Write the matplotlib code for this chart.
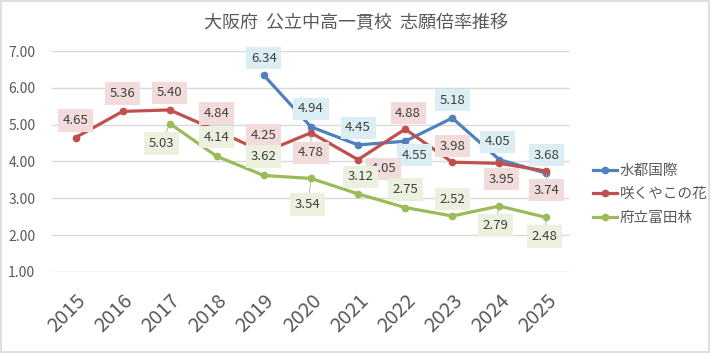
import matplotlib.pyplot as plt
from matplotlib.patches import Rectangle

plt.rcParams['font.family'] = ['Noto Sans CJK JP', 'DejaVu Sans']

years = ['2015', '2016', '2017', '2018', '2019', '2020', '2021', '2022', '2023', '2024', '2025']

suito_x = [4, 5, 6, 7, 8, 9, 10]
suito = [6.34, 4.94, 4.45, 4.55, 5.18, 4.05, 3.68]

sakuya_x = [0, 1, 2, 3, 4, 5, 6, 7, 8, 9, 10]
sakuya = [4.65, 5.36, 5.40, 4.84, 4.25, 4.78, 4.05, 4.88, 3.98, 3.95, 3.74]

tonda_x = [2, 3, 4, 5, 6, 7, 8, 9, 10]
tonda = [5.03, 4.14, 3.62, 3.54, 3.12, 2.75, 2.52, 2.79, 2.48]

names = ['水都国際', '咲くやこの花', '府立富田林']

# label offsets in pixels (dx, dy up)
suito_off = [(0, 17), (0, 18), (0, 17), (9, -14), (0, 18), (-2, 18), (0, 18)]
sakuya_off = [(0, 17), (0, 18), (0, 17), (0, 17), (0, 17), (0, -20), (25, -9),
              (3, 16), (0, 16), (2, -16), (0, -19)]
tonda_off = [(-8, -20), (0, 19), (0, 19), (-3, -26), (2, 17), (0, 18), (0, 17),
             (-4, -19), (-2, -19)]

colors = ['#4F81BD', '#C0504D', '#9BBB59']
box_colors = ['#DBEEF4', '#F2DCDB', '#EBF1DE']

fig = plt.figure(figsize=(7.11, 3.53), dpi=100)
ax = fig.add_axes([0.0731, 0.2295, 0.7286, 0.626])

series = [(suito_x, suito, suito_off), (sakuya_x, sakuya, sakuya_off), (tonda_x, tonda, tonda_off)]
for (xs, ys, offs), name, c, bc in zip(series, names, colors, box_colors):
    ax.plot(xs, ys, color=c, lw=2.3, marker='o', markersize=4.5, label=name, zorder=3)
    for x, y, (dx, dy) in zip(xs, ys, offs):
        leader = None
        if dy <= -19:
            leader = dict(arrowstyle='-', color='#A6A6A6', lw=0.6, shrinkA=0, shrinkB=2)
        ax.annotate(f'{y:.2f}', (x, y), xytext=(dx, dy), textcoords='offset pixels',
                    ha='center', va='center', fontsize=9.5, color='#404040', zorder=4,
                    bbox=dict(boxstyle='square,pad=0.35', fc=bc, ec='none'),
                    arrowprops=leader)

ax.set_xlim(-0.5, 10.5)
ax.set_ylim(1, 7)
ax.set_yticks([1, 2, 3, 4, 5, 6, 7])
ax.set_yticklabels([f'{v:.2f}' for v in [1, 2, 3, 4, 5, 6, 7]])
ax.set_xticks(range(len(years)))
ax.set_xticklabels(years, rotation=45, ha='right', rotation_mode='anchor', fontsize=14.5)
ax.tick_params(axis='x', length=0, pad=13, colors='#595959')
ax.tick_params(axis='y', length=0, pad=12, labelsize=10, colors='#595959')
ax.grid(axis='y', color='#D9D9D9', lw=1)
ax.set_axisbelow(True)
for s in ax.spines.values():
    s.set_visible(False)

fig.text(0.5, 0.935, '大阪府  公立中高一貫校  志願倍率推移', ha='center', va='center',
         fontsize=13, color='#595959')

ax.legend(loc='upper left', bbox_to_anchor=(1.045, 0.49), frameon=False, fontsize=10.5,
          handlelength=1.6, labelspacing=0.65, handletextpad=0.2, borderpad=0,
          borderaxespad=0, labelcolor='#595959')

fig.patches.append(Rectangle((0.002, 0.003), 0.995, 0.993, transform=fig.transFigure,
                             fill=False, ec='#D9D9D9', lw=1.2))

plt.savefig('out.png', dpi=100)
